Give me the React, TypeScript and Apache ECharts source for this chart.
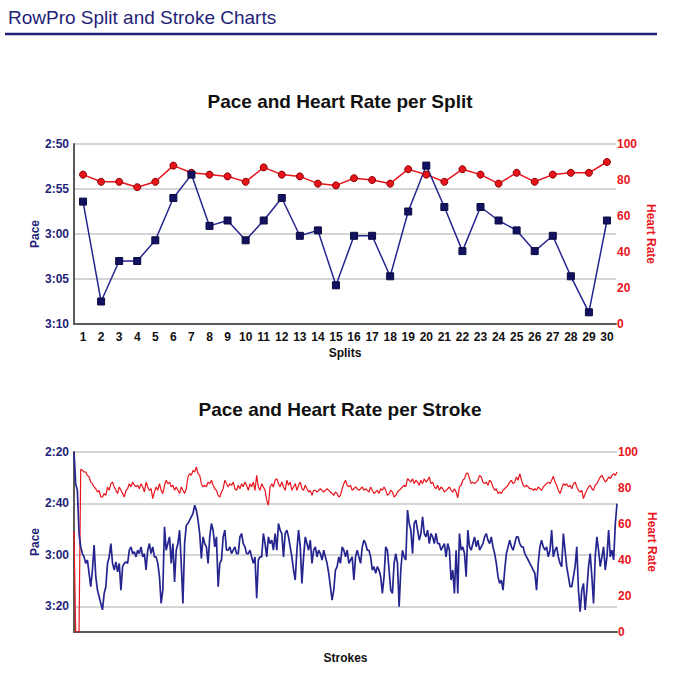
import React, { useEffect, useRef } from 'react';
import * as echarts from 'echarts';

const HEADER = 'RowPro Split and Stroke Charts';
const TITLE_SPLIT = 'Pace and Heart Rate per Split';
const TITLE_STROKE = 'Pace and Heart Rate per Stroke';

const SPLIT_LABELS = ['1', '2', '3', '4', '5', '6', '7', '8', '9', '10', '11', '12', '13', '14', '15', '16', '17', '18', '19', '20', '21', '22', '23', '24', '25', '26', '27', '28', '29', '30'];
// pace in seconds per 500m
const SPLIT_PACE = [176.4, 187.5, 183.0, 183.0, 180.7, 176.0, 173.4, 179.1, 178.5, 180.7, 178.5, 176.0, 180.2, 179.6, 185.7, 180.2, 180.2, 184.7, 177.5, 172.4, 177.0, 181.9, 177.0, 178.5, 179.6, 181.9, 180.2, 184.7, 188.7, 178.5];
const SPLIT_HR = [83, 79, 79, 76, 79, 88, 84, 83, 82, 79, 87, 83, 82, 78, 77, 81, 80, 78, 86, 83, 79, 86, 83, 78, 84, 79, 83, 84, 84, 90];

const STROKE_PACE = [
  140.0, 152.3, 154.9, 171.7, 176.9, 179.5, 180.8, 183.3, 182.0, 187.2,
  192.4, 185.9, 176.2, 188.5, 193.7, 196.3, 198.9, 201.4, 195.0, 192.4,
  183.3, 180.8, 175.6, 183.3, 185.9, 182.7, 186.6, 183.3, 193.7, 184.6,
  183.3, 182.7, 183.3, 178.2, 176.9, 179.5, 178.8, 180.8, 178.2, 179.5,
  176.9, 180.8, 179.5, 185.9, 178.2, 175.6, 179.5, 176.9, 180.8, 180.8,
  183.3, 188.5, 198.9, 193.7, 169.1, 178.2, 175.6, 173.0, 183.3, 175.6,
  190.5, 178.2, 175.6, 170.4, 183.3, 198.9, 175.6, 168.5, 167.8, 166.5,
  165.2, 163.9, 160.7, 162.6, 166.5, 171.7, 181.4, 173.0, 175.6, 176.9,
  183.3, 173.0, 167.8, 170.4, 176.9, 173.0, 192.4, 183.3, 182.0, 173.0,
  170.4, 178.2, 178.2, 176.9, 179.5, 178.2, 176.9, 179.5, 179.5, 173.0,
  171.7, 175.6, 176.9, 179.5, 179.5, 178.2, 180.8, 183.3, 180.8, 196.9,
  182.0, 180.8, 180.8, 171.7, 175.6, 180.8, 173.0, 175.6, 174.3, 178.2,
  171.7, 178.2, 167.8, 170.4, 171.7, 180.8, 171.7, 170.4, 173.0, 176.9,
  180.8, 185.9, 189.8, 178.2, 170.4, 176.9, 191.1, 180.8, 173.0, 175.6,
  178.2, 174.3, 183.3, 178.2, 176.9, 180.8, 178.2, 179.5, 182.0, 178.2,
  180.8, 183.3, 187.2, 192.4, 197.6, 193.7, 185.9, 184.6, 180.8, 183.3,
  176.9, 178.2, 180.8, 178.2, 183.3, 182.0, 180.8, 189.8, 180.8, 178.2,
  180.8, 183.3,
  176.9, 174.3, 175.6, 178.2, 178.2, 180.8, 185.9, 184.6, 187.2, 184.6,
  185.9, 188.5, 195.0, 188.5, 176.9, 178.2, 185.9, 193.7, 195.0, 183.3,
  179.5, 183.3, 200.2, 185.9, 178.2, 180.8, 182.0, 162.6, 167.8, 170.4,
  179.5, 167.8, 166.5, 170.4, 174.3, 171.7, 165.2, 171.7, 173.0, 170.4,
  175.6, 171.7, 173.0, 175.6, 171.7, 175.6, 175.6, 178.2, 176.9, 175.6,
  180.8, 175.6, 178.2, 189.8, 185.9, 195.0, 178.2, 195.0, 171.7, 178.2,
  176.9, 179.5, 188.5, 170.4, 176.9, 178.2, 175.6, 173.0, 176.9, 174.3,
  178.2, 176.9, 175.6, 173.0, 171.7, 174.3, 175.6, 173.0, 176.9, 179.5,
  183.3, 188.5, 191.1, 189.8, 193.7, 185.9, 179.5, 176.9, 174.3, 176.9,
  178.2, 175.6, 173.0, 173.0, 175.6, 176.9, 176.9, 179.5, 180.8, 182.0,
  183.3, 184.6, 185.9, 187.2, 193.7, 183.3, 176.9, 174.3, 176.9, 178.2,
  176.9, 180.8, 178.2, 170.4, 180.8, 178.2, 176.9, 180.8, 183.3, 184.6,
  171.7, 178.2, 184.6, 188.5, 192.4, 192.4, 188.5, 184.6, 176.9, 193.7,
  202.1, 193.7, 191.1, 201.4, 193.7, 184.6, 179.5, 188.5, 198.9, 180.8,
  173.0, 178.2, 184.6, 180.8, 176.9, 185.9, 180.8, 170.4, 180.8, 178.2,
  182.0, 167.8, 160.1,
];

const STROKE_HR = [
  56, 0, 0, 0, 90.4, 89.8, 88.9, 88.9, 87.0, 86.1,
  83.3, 82.4, 80.6, 79.6, 77.8, 78.7, 75.0, 75.0, 76.9, 75.9,
  80.6, 78.7, 82.4, 83.3, 80.6, 78.7, 76.9, 80.6, 78.7, 76.9,
  75.0, 78.7, 79.6, 82.4, 80.6, 83.3, 81.5, 80.6, 81.5, 79.6,
  82.4, 80.6, 77.8, 83.3, 80.6, 78.7, 79.6, 74.1, 77.8, 80.6,
  78.7, 82.4, 78.7, 76.9, 81.5, 84.3, 82.4, 83.3, 80.6, 81.5,
  78.7, 80.6, 78.7, 76.9, 80.6, 78.7, 76.9, 79.6, 86.1, 88.0,
  87.0, 89.8, 88.9, 91.7, 88.0, 87.0, 82.4, 80.6, 81.5, 80.6,
  83.3, 82.4, 84.3, 81.5, 79.6, 78.7, 75.9, 75.0, 77.8, 79.6,
  84.3, 82.4, 80.6, 82.4, 81.5, 83.3, 79.6, 78.7, 81.5, 79.6,
  82.4, 80.6, 83.3, 81.5, 78.7, 82.4, 80.6, 83.3, 78.7, 87.0,
  80.6, 78.7, 82.4, 80.6, 78.7, 73.1, 70.4, 80.6, 82.4, 80.6,
  84.3, 85.2, 82.4, 80.6, 83.3, 80.6, 78.7, 84.3, 81.5, 83.3,
  78.7, 80.6, 82.4, 78.7, 81.5, 83.3, 79.6, 78.7, 81.5, 79.6,
  77.8, 78.7, 75.9, 78.7, 78.7, 77.8, 78.7, 79.6, 78.7, 77.8,
  78.7, 79.6, 78.7, 77.8, 76.9, 75.9, 77.8, 76.9, 75.0, 75.9,
  79.6, 82.4, 84.3, 81.5, 80.6, 81.5, 78.7, 79.6, 80.6, 79.6,
  78.7, 79.6,
  80.6, 78.7, 79.6, 78.7, 77.8, 80.6, 78.7, 76.9, 77.8, 78.7,
  76.9, 79.6, 78.7, 80.6, 78.7, 75.9, 76.9, 78.7, 77.8, 75.0,
  75.9, 77.8, 78.7, 79.6, 80.6, 81.5, 80.6, 85.2, 84.3, 83.3,
  85.2, 82.4, 84.3, 83.3, 81.5, 84.3, 82.4, 85.2, 83.3, 84.3,
  86.1, 82.4, 83.3, 80.6, 79.6, 81.5, 78.7, 80.6, 79.6, 77.8,
  78.7, 79.6, 80.6, 78.7, 77.8, 79.6, 77.8, 74.6, 80.6, 81.5,
  84.3, 85.2, 88.0, 88.3, 85.2, 82.4, 83.3, 82.4, 83.3, 84.3,
  87.0, 86.1, 83.3, 82.4, 83.3, 81.5, 84.3, 83.3, 80.6, 78.7,
  79.6, 76.9, 77.8, 76.9, 78.7, 79.6, 80.6, 81.5, 83.3, 84.3,
  82.4, 83.3, 86.1, 84.3, 88.0, 84.3, 81.5, 80.6, 81.5, 80.6,
  79.6, 79.6, 78.7, 79.6, 78.7, 80.6, 79.6, 78.7, 80.6, 81.5,
  82.4, 83.3, 82.4, 84.3, 86.5, 83.3, 81.5, 78.7, 76.9, 79.6,
  82.4, 81.5, 82.4, 80.6, 81.5, 79.6, 82.4, 83.3, 80.6, 78.7,
  77.8, 78.7, 74.1, 76.9, 78.7, 80.6, 81.5, 79.6, 78.7, 81.5,
  82.4, 84.3, 86.1, 87.0, 85.2, 83.3, 84.3, 86.1, 85.2, 87.0,
  88.0, 87.0, 88.9,
];

const NAVY = '#1f1f78';
const BLUE_LINE = '#25258f';
const RED = '#e8141c';
const AXIS_DARK = '#5a5a5a';
const GRID_GRAY = '#c6c6c6';
const FONT = '"Liberation Sans", Arial, Helvetica, sans-serif';

const paceFmt = (v: number) => {
  const m = Math.floor(v / 60);
  const s = Math.round(v - m * 60);
  return m + ':' + (s < 10 ? '0' : '') + s;
};

export default function App() {
  const ref = useRef<HTMLDivElement>(null);
  useEffect(() => {
    document.body.style.margin = '0';
    const chart = echarts.init(ref.current!, null, { renderer: 'svg' });
    const n = Math.max(STROKE_PACE.length, STROKE_HR.length);
    const strokeCats: string[] = [];
    for (let i = 1; i <= n; i++) strokeCats.push(String(i));

    const boldLabel = (color: string) => ({ color, fontWeight: 'bold' as const, fontSize: 12, fontFamily: FONT });

    const option: any = {
      animation: false,
      textStyle: { fontFamily: FONT },
      graphic: [
        { type: 'text', x: 8, y: 8, style: { text: HEADER, font: `19px ${FONT}`, fill: NAVY } },
        { type: 'line', shape: { x1: 5, y1: 34, x2: 657, y2: 34 }, style: { stroke: NAVY, lineWidth: 2.5 } },
        { type: 'text', x: 340, y: 101, style: { text: TITLE_SPLIT, font: `bold 19px ${FONT}`, fill: '#111', align: 'center', verticalAlign: 'middle' } },
        { type: 'text', x: 340, y: 409, style: { text: TITLE_STROKE, font: `bold 19px ${FONT}`, fill: '#111', align: 'center', verticalAlign: 'middle' } },
      ],
      grid: [
        { left: 74, top: 144, width: 542, height: 180 },
        { left: 74, top: 452, width: 543, height: 180 },
      ],
      xAxis: [
        {
          gridIndex: 0, type: 'category', data: SPLIT_LABELS, boundaryGap: true,
          axisLine: { onZero: false, lineStyle: { color: AXIS_DARK, width: 2 } },
          axisTick: { show: false },
          axisLabel: { ...boldLabel('#111'), margin: 7, interval: 0 },
          name: 'Splits', nameLocation: 'middle', nameGap: 23, nameMoveOverlap: false,
          nameTextStyle: boldLabel('#111'),
        },
        {
          gridIndex: 1, type: 'category', data: strokeCats, boundaryGap: false,
          axisLine: { onZero: false, lineStyle: { color: AXIS_DARK, width: 2 } },
          axisTick: { show: false },
          axisLabel: { show: false },
          name: 'Strokes', nameLocation: 'middle', nameGap: 20, nameMoveOverlap: false,
          nameTextStyle: boldLabel('#111'),
        },
      ],
      yAxis: [
        {
          gridIndex: 0, type: 'value', min: 170, max: 190, interval: 5, inverse: true,
          axisLine: { show: true, lineStyle: { color: AXIS_DARK, width: 2 } },
          axisTick: { show: false },
          axisLabel: { ...boldLabel(NAVY), margin: 5, formatter: paceFmt },
          splitLine: { show: true, lineStyle: { color: GRID_GRAY, width: 1.5 } },
          name: 'Pace', nameLocation: 'middle', nameGap: 33, nameRotate: 90, nameMoveOverlap: false,
          nameTextStyle: boldLabel(NAVY),
        },
        {
          gridIndex: 0, type: 'value', position: 'right', min: 0, max: 100, interval: 20,
          axisLine: { show: false }, axisTick: { show: false }, splitLine: { show: false },
          axisLabel: { ...boldLabel(RED), margin: 1 },
          name: 'Heart Rate', nameLocation: 'middle', nameGap: 29, nameRotate: -90, nameMoveOverlap: false,
          nameTextStyle: boldLabel(RED),
        },
        {
          gridIndex: 1, type: 'value', min: 140, max: 210, interval: 20, inverse: true,
          axisLine: { show: true, lineStyle: { color: AXIS_DARK, width: 2 } },
          axisTick: { show: false },
          axisLabel: { ...boldLabel(NAVY), margin: 5, formatter: (v: number) => (v > 200 ? '' : paceFmt(v)) },
          splitLine: { show: true, lineStyle: { color: GRID_GRAY, width: 1.5 } },
          name: 'Pace', nameLocation: 'middle', nameGap: 33, nameRotate: 90, nameMoveOverlap: false,
          nameTextStyle: boldLabel(NAVY),
        },
        {
          gridIndex: 1, type: 'value', position: 'right', min: 0, max: 100, interval: 20,
          axisLine: { show: false }, axisTick: { show: false }, splitLine: { show: false },
          axisLabel: { ...boldLabel(RED), margin: 1 },
          name: 'Heart Rate', nameLocation: 'middle', nameGap: 29, nameRotate: -90, nameMoveOverlap: false,
          nameTextStyle: boldLabel(RED),
        },
      ],
      series: [
        {
          name: 'Heart Rate', type: 'line', xAxisIndex: 0, yAxisIndex: 1, data: SPLIT_HR,
          symbol: 'circle', symbolSize: 7,
          lineStyle: { color: RED, width: 1.5 },
          itemStyle: { color: RED, borderColor: '#8a0000', borderWidth: 1 },
        },
        {
          name: 'Pace', type: 'line', xAxisIndex: 0, yAxisIndex: 0, data: SPLIT_PACE,
          symbol: 'rect', symbolSize: 7,
          lineStyle: { color: BLUE_LINE, width: 1.5 },
          itemStyle: { color: '#121260', borderColor: '#0a0a40', borderWidth: 1 },
        },
        {
          name: 'Stroke Heart Rate', type: 'line', xAxisIndex: 1, yAxisIndex: 3, data: STROKE_HR,
          showSymbol: false, symbol: 'none',
          lineStyle: { color: RED, width: 1.2 },
        },
        {
          name: 'Stroke Pace', type: 'line', xAxisIndex: 1, yAxisIndex: 2, data: STROKE_PACE,
          showSymbol: false, symbol: 'none',
          lineStyle: { color: BLUE_LINE, width: 1.7 },
        },
      ],
    };
    chart.setOption(option);
    return () => chart.dispose();
  }, []);
  return <div ref={ref} style={{ width: 677, height: 678 }} />;
}
